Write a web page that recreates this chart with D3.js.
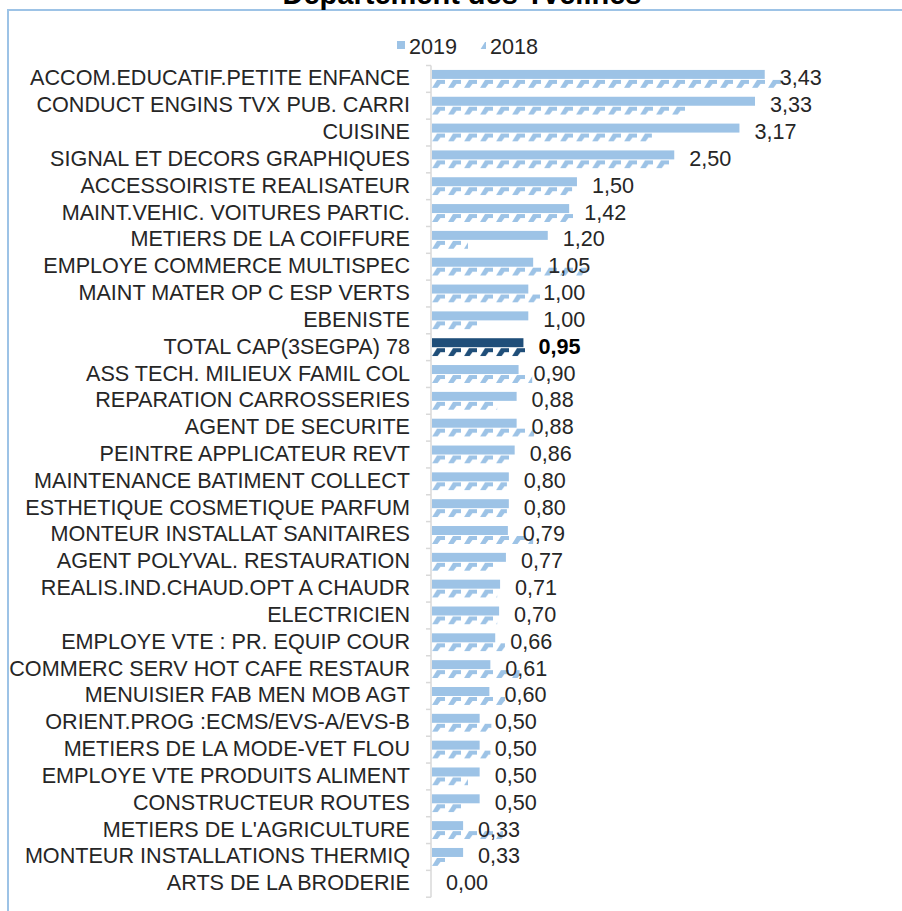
<!DOCTYPE html>
<html>
<head>
<meta charset="utf-8">
<script src="https://cdn.jsdelivr.net/npm/d3@7"></script>
<style>
  body { margin: 0; background: #fff; overflow: hidden; }
  svg { display: block; font-family: "Liberation Sans", Arial, sans-serif; }
</style>
</head>
<body>
<div id="chart"></div>
<script>
// Ratio par formation, 2019 vs 2018
const categories = [
  "ACCOM.EDUCATIF.PETITE ENFANCE", "CONDUCT ENGINS TVX PUB. CARRI", "CUISINE",
  "SIGNAL ET DECORS GRAPHIQUES", "ACCESSOIRISTE REALISATEUR", "MAINT.VEHIC. VOITURES PARTIC.",
  "METIERS DE LA COIFFURE", "EMPLOYE COMMERCE MULTISPEC", "MAINT MATER OP C ESP VERTS",
  "EBENISTE", "TOTAL CAP(3SEGPA) 78", "ASS TECH. MILIEUX FAMIL COL",
  "REPARATION CARROSSERIES", "AGENT DE SECURITE", "PEINTRE APPLICATEUR REVT",
  "MAINTENANCE BATIMENT COLLECT", "ESTHETIQUE COSMETIQUE PARFUM", "MONTEUR INSTALLAT SANITAIRES",
  "AGENT POLYVAL. RESTAURATION", "REALIS.IND.CHAUD.OPT A CHAUDR", "ELECTRICIEN",
  "EMPLOYE VTE : PR. EQUIP COUR", "COMMERC SERV HOT CAFE RESTAUR", "MENUISIER FAB MEN MOB AGT",
  "ORIENT.PROG :ECMS/EVS-A/EVS-B", "METIERS DE LA MODE-VET FLOU", "EMPLOYE VTE PRODUITS ALIMENT",
  "CONSTRUCTEUR ROUTES", "METIERS DE L'AGRICULTURE", "MONTEUR INSTALLATIONS THERMIQ",
  "ARTS DE LA BRODERIE"
];
const values2019 = [3.43, 3.33, 3.17, 2.50, 1.50, 1.42, 1.20, 1.05, 1.00, 1.00, 0.95, 0.90,
  0.88, 0.88, 0.86, 0.80, 0.80, 0.79, 0.77, 0.71, 0.70, 0.66, 0.61, 0.60, 0.50, 0.50,
  0.50, 0.50, 0.33, 0.33, 0.00];
const values2018 = [3.60, 2.64, 2.27, 2.46, 1.45, 1.46, 0.38, 1.60, 1.12, 0.48, 0.99, 1.04,
  0.68, 1.06, 0.82, 0.78, 0.78, 1.05, 0.66, 0.68, 0.68, 0.76, 0.91, 0.76, 0.62, 0.61,
  0.38, 0.32, 0.74, 0.15, 0.00];
const seriesNames = ["2019", "2018"];
const totalRow = "TOTAL CAP(3SEGPA) 78";

const W = 902, H = 911;
const lightBlue = "#9dc3e6", darkBlue = "#1f4e79", textColor = "#262626";
const fontSize = "21.6px";

const fr = d3.formatLocale({ decimal: ",", thousands: " ", grouping: [3], currency: ["", " €"] });
const fmt = fr.format(".2f");

const svg = d3.select("#chart").append("svg")
  .attr("width", W).attr("height", H);

const defs = svg.append("defs");

// frame (chart area border, cut by the window)
svg.append("rect")
  .attr("x", 8).attr("y", 10)
  .attr("width", W).attr("height", H)
  .attr("fill", "none")
  .attr("stroke", lightBlue)
  .attr("stroke-width", 2);

// title, mostly outside the picture (as in the reference)
svg.append("text")
  .attr("x", 462).attr("y", 4)
  .attr("text-anchor", "middle")
  .style("font-size", "29px")
  .style("font-weight", "bold")
  .style("fill", "#000")
  .text("Département des Yvelines");

const x = d3.scaleLinear().domain([0, 4]).range([431, 431 + 4 * 97.3]);
const y = d3.scaleBand().domain(categories)
  .range([65.5, 897.2])
  .paddingInner(0.33).paddingOuter(0.165);
const ys = d3.scaleBand().domain(seriesNames).range([0, y.bandwidth()]);

const rows = categories.map((c, i) => ({ cat: c, v19: values2019[i], v18: values2018[i] }));

// one hatch pattern per bar so the motif lines up with each bar
function hatch(id, y0, color) {
  const h = ys.bandwidth();
  const p = defs.append("pattern")
    .attr("id", id)
    .attr("patternUnits", "userSpaceOnUse")
    .attr("x", x(0) + 1).attr("y", y0)
    .attr("width", 16).attr("height", h + 20);
  p.append("path")
    .attr("d", `M0,${h} L5,1 L13,1 L13,5 L8.5,5 L5.5,${h} Z`)
    .attr("fill", color);
}
rows.forEach((d, i) => {
  hatch("h" + i, y(d.cat) + ys("2018"), d.cat === totalRow ? darkBlue : lightBlue);
});

const g = svg.append("g");

// 2019 solid bars
g.selectAll(".b19")
  .data(rows)
  .join("rect")
  .attr("class", "b19")
  .attr("x", x(0) + 1)
  .attr("y", d => y(d.cat) + ys("2019"))
  .attr("width", d => Math.max(0, x(d.v19) - x(0) - 1))
  .attr("height", ys.bandwidth())
  .attr("fill", d => d.cat === totalRow ? darkBlue : lightBlue);

// 2018 hatched bars
g.selectAll(".b18")
  .data(rows)
  .join("rect")
  .attr("class", "b18")
  .attr("x", x(0) + 1)
  .attr("y", d => y(d.cat) + ys("2018"))
  .attr("width", d => Math.max(0, x(d.v18) - x(0) - 1))
  .attr("height", ys.bandwidth())
  .attr("fill", (d, i) => `url(#h${i})`);

// category axis
const yAxis = svg.append("g")
  .attr("transform", `translate(${x(0)},0)`)
  .call(d3.axisLeft(y).tickSize(0).tickPadding(21));
yAxis.select(".domain").remove();
yAxis.selectAll("text")
  .style("font-size", fontSize)
  .style("font-family", "'Liberation Sans', Arial, sans-serif")
  .style("fill", textColor)
  .attr("dy", "0.3em");

svg.append("line")
  .attr("x1", x(0)).attr("x2", x(0))
  .attr("y1", y.range()[0]).attr("y2", y.range()[1])
  .attr("stroke", "#d9d9d9").attr("stroke-width", 1.5);

svg.selectAll(".tickmark")
  .data(d3.range(categories.length + 1))
  .join("line")
  .attr("class", "tickmark")
  .attr("x1", x(0) - 5).attr("x2", x(0))
  .attr("y1", i => y.range()[0] + i * y.step())
  .attr("y2", i => y.range()[0] + i * y.step())
  .attr("stroke", "#d9d9d9").attr("stroke-width", 1.5);

// data labels (2019)
g.selectAll(".lbl")
  .data(rows)
  .join("text")
  .attr("class", "lbl")
  .attr("x", d => x(d.v19) + 15)
  .attr("y", d => y(d.cat) + y.bandwidth() / 2)
  .attr("dy", "0.3em")
  .style("font-size", fontSize)
  .style("font-weight", d => d.cat === totalRow ? "bold" : "normal")
  .style("fill", d => d.cat === totalRow ? "#000" : textColor)
  .text(d => fmt(d.v19));

// legend
hatch("hleg", 41, lightBlue);
const legend = svg.append("g");
legend.append("rect")
  .attr("x", 397).attr("y", 41).attr("width", 8).attr("height", 8)
  .attr("fill", lightBlue);
legend.append("text")
  .attr("x", 409).attr("y", 46).attr("dy", "0.35em")
  .style("font-size", fontSize).style("fill", textColor)
  .text(seriesNames[0]);
legend.append("rect")
  .attr("x", 477).attr("y", 41).attr("width", 9).attr("height", 8)
  .attr("fill", "url(#hleg)");
legend.append("text")
  .attr("x", 490).attr("y", 46).attr("dy", "0.35em")
  .style("font-size", fontSize).style("fill", textColor)
  .text(seriesNames[1]);
</script>
</body>
</html>
